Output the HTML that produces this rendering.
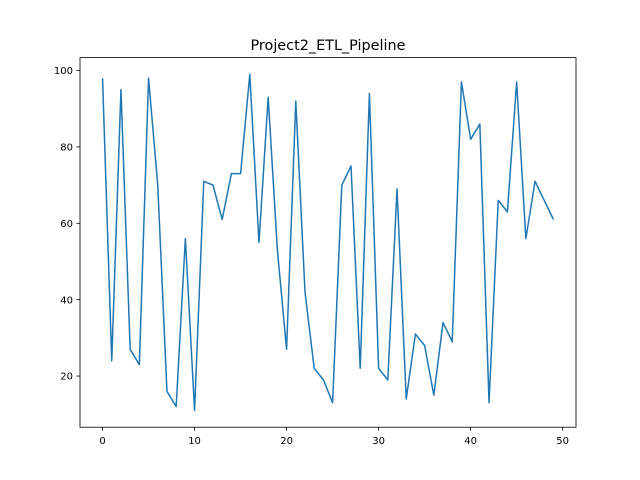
<!DOCTYPE html>
<html><head><meta charset="utf-8"><style>
body{margin:0;background:#fff;}
svg{display:block;font-family:"DejaVu Sans","Liberation Sans",sans-serif;}
</style></head><body>
<svg id="chart" width="640" height="480">
<rect x="0" y="0" width="640" height="480" fill="#fff"/>
<text x="328" y="50" text-anchor="middle" font-size="14.4" fill="#000">Project2_ETL_Pipeline</text>
<g id="xticks"></g>
<g id="yticks"></g>
<polyline id="series" fill="none" stroke="#1f77b4" stroke-width="1.5" stroke-linejoin="round"/>
<rect x="80" y="57.6" width="496" height="369.6" fill="none" stroke="#000" stroke-width="0.8"/>
</svg>
<script>
const values = [98,24,95,27,23,98,70,16,12,56,11,71,70,61,73,73,99,55,93,53,27,92,42,22,19,13,70,75,22,94,22,19,69,14,31,28,15,34,29,97,82,86,13,66,63,97,56,71,66,61];
const xTicks = [0,10,20,30,40,50];
const yTicks = [20,40,60,80,100];

const L=80,R=576,T=57.6,B=427.2;
const n=values.length;
const xmin=0, xmax=n-1, xpad=(xmax-xmin)*0.05;
const ymin=Math.min(...values), ymax=Math.max(...values), ypad=(ymax-ymin)*0.05;
const xs=v=>L+(v-(xmin-xpad))/((xmax+xpad)-(xmin-xpad))*(R-L);
const ys=v=>B-(v-(ymin-ypad))/((ymax+ypad)-(ymin-ypad))*(B-T);
const NS="http://www.w3.org/2000/svg";

document.getElementById('series').setAttribute('points',values.map((v,i)=>xs(i)+','+ys(v)).join(' '));

const gx=document.getElementById('xticks');
xTicks.forEach(t=>{
  const x=xs(t);
  const l=document.createElementNS(NS,'line');
  l.setAttribute('x1',x);l.setAttribute('x2',x);l.setAttribute('y1',B);l.setAttribute('y2',B+3.5);
  l.setAttribute('stroke','#000');l.setAttribute('stroke-width','0.8');
  
  
  gx.appendChild(l);
  const tx=document.createElementNS(NS,'text');
  tx.setAttribute('x',x);tx.setAttribute('y',B+17);tx.setAttribute('text-anchor','middle');tx.setAttribute('font-size','10');
  tx.textContent=t;
  
  
  gx.appendChild(tx);
});
const gy=document.getElementById('yticks');
yTicks.forEach(t=>{
  const y=ys(t);
  const l=document.createElementNS(NS,'line');
  l.setAttribute('x1',L-3.5);l.setAttribute('x2',L);l.setAttribute('y1',y);l.setAttribute('y2',y);
  l.setAttribute('stroke','#000');l.setAttribute('stroke-width','0.8');
  
  
  gy.appendChild(l);
  const tx=document.createElementNS(NS,'text');
  tx.setAttribute('x',L-7);tx.setAttribute('y',y+3.6);tx.setAttribute('text-anchor','end');tx.setAttribute('font-size','10');
  tx.textContent=t;
  
  
  gy.appendChild(tx);
});
</script>
</body></html>
